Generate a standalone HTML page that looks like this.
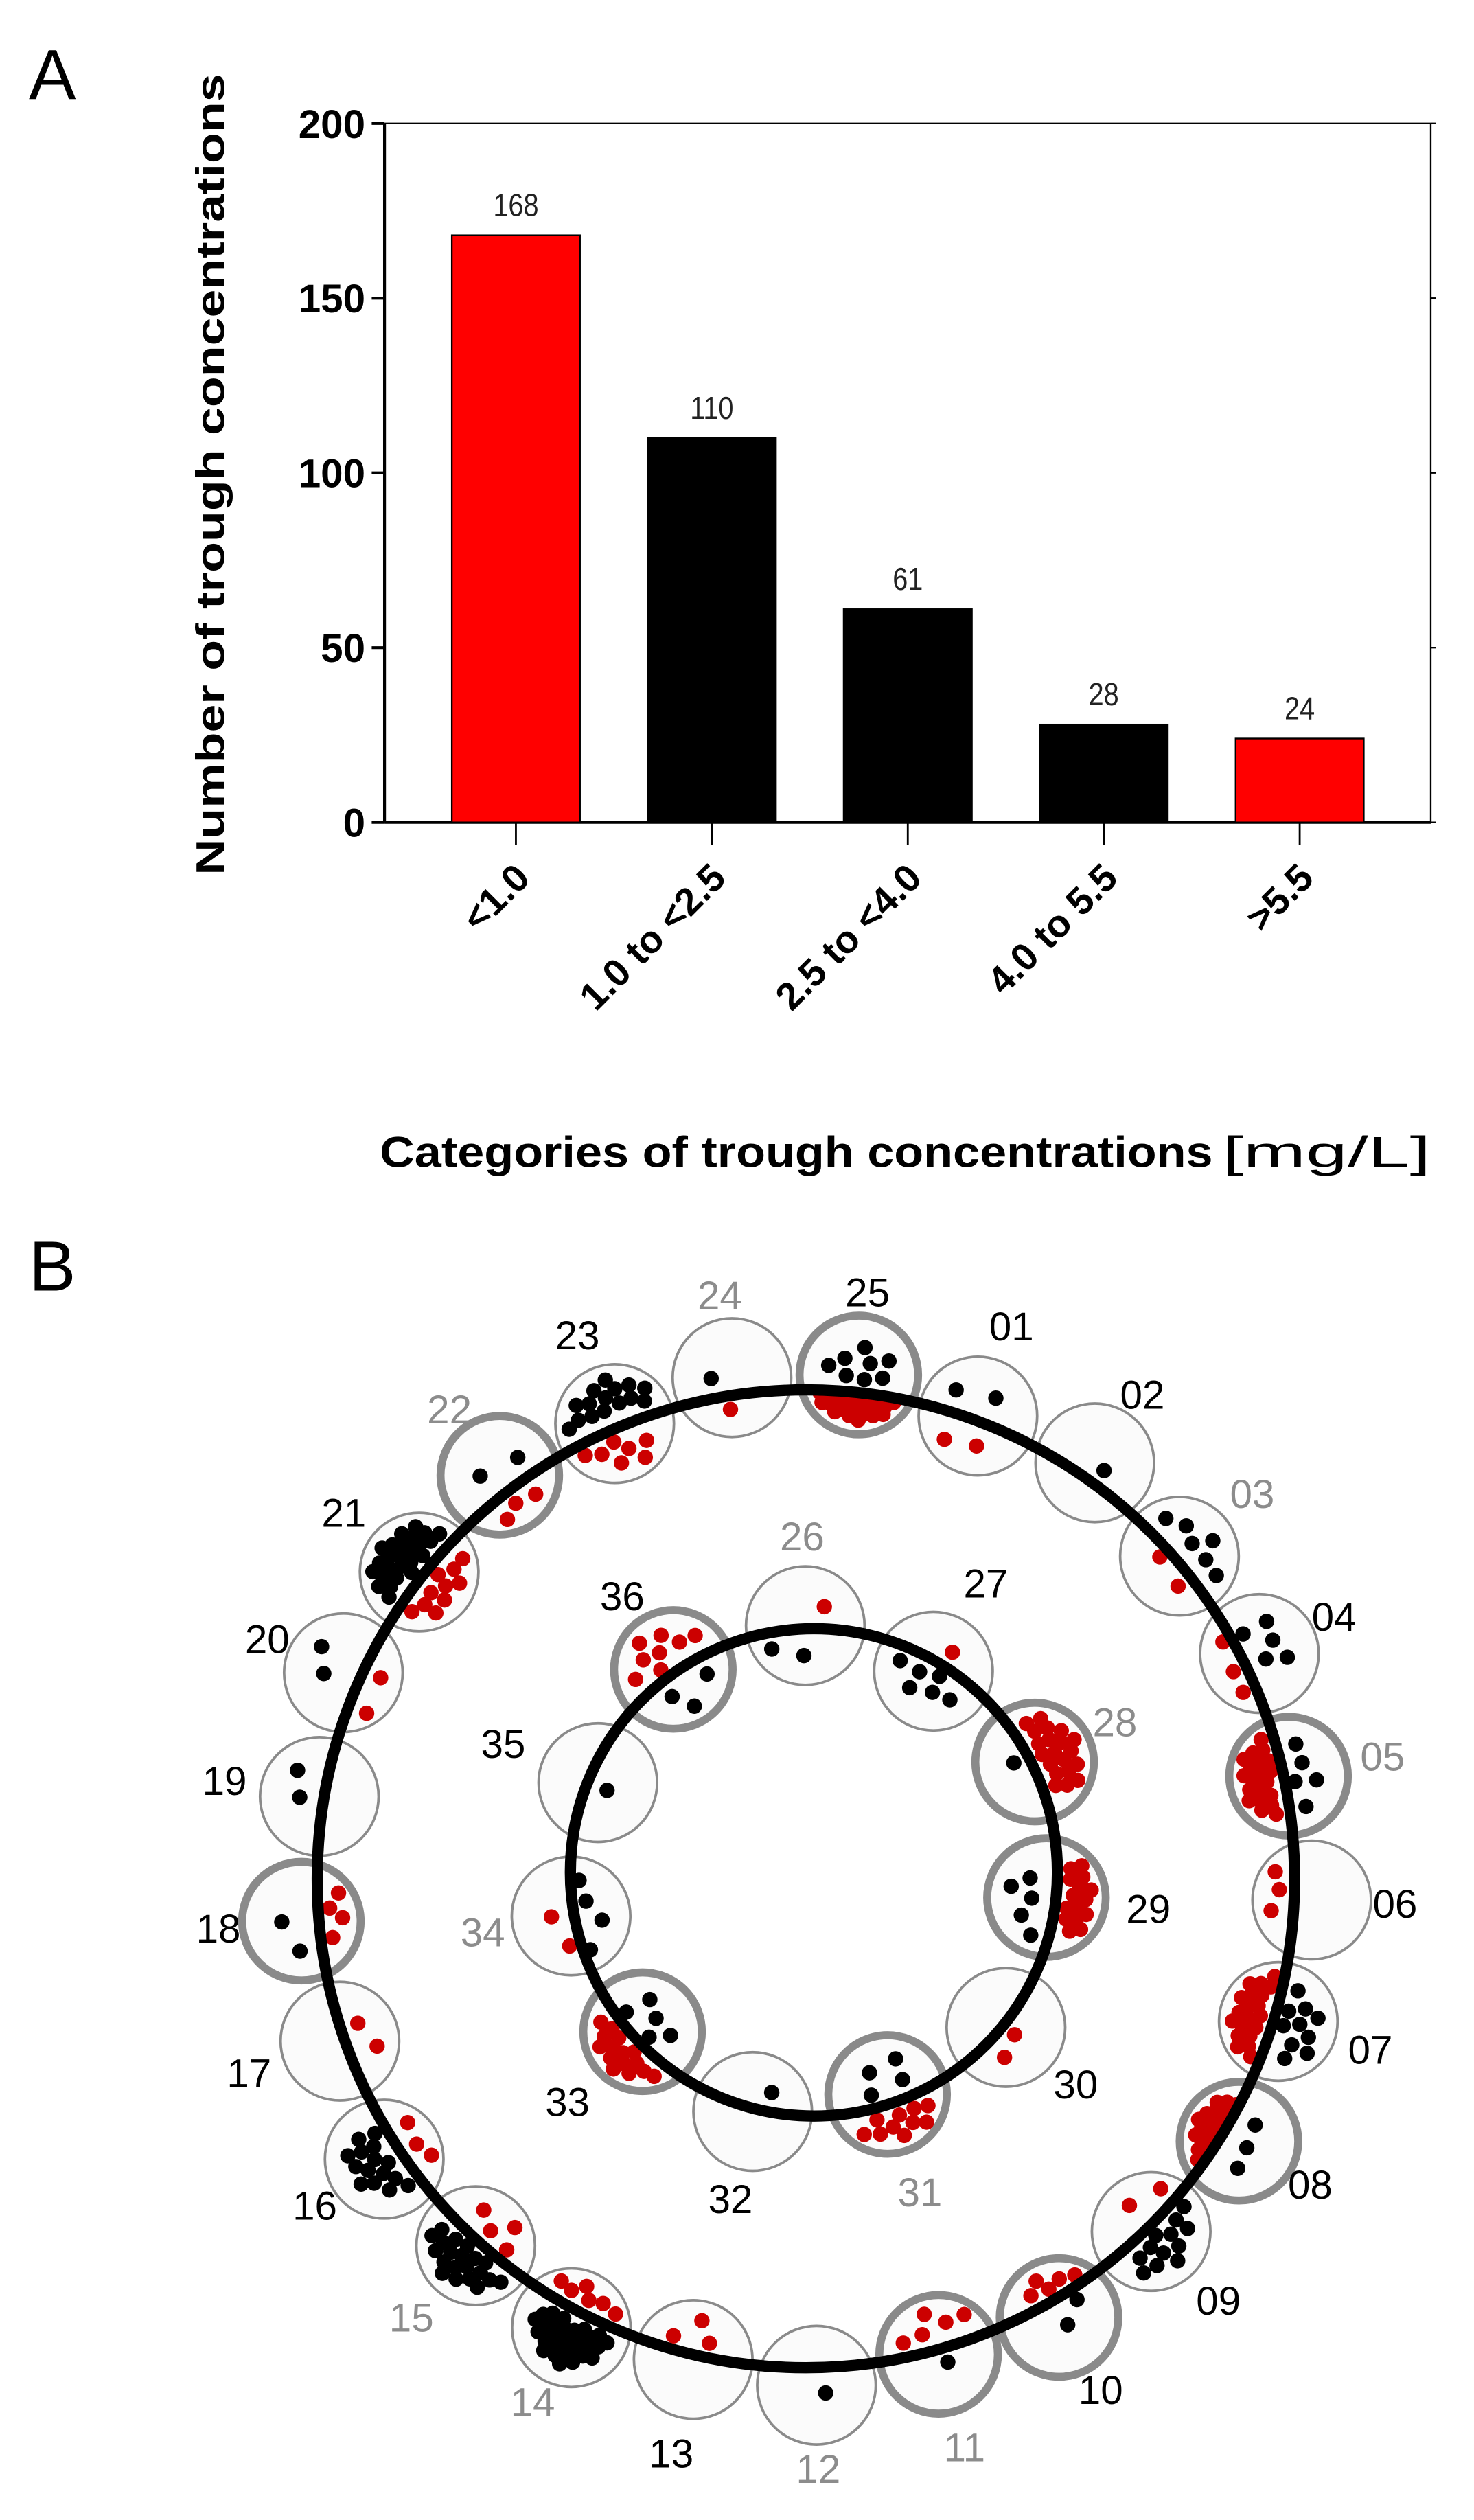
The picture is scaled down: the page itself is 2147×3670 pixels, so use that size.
<!DOCTYPE html>
<html><head><meta charset="utf-8">
<style>
html,body{margin:0;padding:0;background:#fff;}
svg{display:block;}
text{font-family:"Liberation Sans",Arial,sans-serif;}
</style></head>
<body>
<svg id="fig" width="2147" height="3670" viewBox="0 0 920 1572" preserveAspectRatio="none" xmlns="http://www.w3.org/2000/svg">
  <rect x="0" y="0" width="920" height="1572" fill="#fff"/>
  <text x="18" y="62" font-size="44">A</text>
  <g id="chartA"></g>
  <text x="18" y="805" font-size="44">B</text>
  <g id="chartB"></g>
</svg>
<script>
const categories = ["<1.0", "1.0 to <2.5", "2.5 to <4.0", "4.0 to 5.5", ">5.5"];
const counts = [168, 110, 61, 28, 24];
const barColors = ["#ff0000", "#000000", "#000000", "#000000", "#ff0000"];
const yTicks = [0, 50, 100, 150, 200];

// Panel B data
const outerIds = ["25","01","02","03","04","05","06","07","08","09","10","11","12","13","14","15","16","17","18","19","20","21","22","23","24"];
const outerRed =   [25,2,0,2,3,20,3,20,20,2,5,5,0,3,6,4,3,2,4,0,2,10,3,7,1];
const outerBlack = [8,2,1,6,5,5,0,10,3,12,2,1,1,0,30,20,15,0,2,2,2,25,2,15,1];
const outerThick = [1,0,0,0,0,1,0,0,1,0,1,1,0,0,0,0,0,0,1,0,0,0,1,0,0];
const outerGrey =  [0,0,0,1,0,1,0,0,0,0,0,1,1,0,1,1,0,0,0,0,0,0,1,0,1];
const innerIds = ["26","27","28","29","30","31","32","33","34","35","36"];
const innerRed =   [1,1,20,15,2,10,0,15,2,0,8];
const innerBlack = [2,6,1,5,0,4,1,5,4,1,3];
const innerThick = [0,0,1,1,0,1,0,1,0,0,1];
const innerGrey =  [1,0,1,0,0,1,0,0,1,0,0];

const NS = "http://www.w3.org/2000/svg";
function mk(tag, attrs, parent){const e=document.createElementNS(NS,tag);for(const k in attrs)e.setAttribute(k,attrs[k]);parent.appendChild(e);return e;}

// ---------- Chart A ----------
const A = document.getElementById('chartA');
const X0=240, X1=893, Y0=513, Y1=77, YMAX=200;
function yS(v){return Y0-(v/YMAX)*(Y0-Y1);}
function xS(i){return 322+122.3*i;}
const BW=80;
let e;
e=mk('line',{x1:X0,y1:Y1,x2:X0,y2:Y0,stroke:'#000','stroke-width':1.8},A);


e=mk('line',{x1:X0,y1:Y0,x2:X1,y2:Y0,stroke:'#000','stroke-width':1.8},A);


e=mk('line',{x1:X0,y1:Y1,x2:X1,y2:Y1,stroke:'#000','stroke-width':1},A);


e=mk('line',{x1:X1,y1:Y1,x2:X1,y2:Y0,stroke:'#000','stroke-width':1},A);


yTicks.forEach(t=>{
  const y=yS(t);
  mk('line',{x1:X0-8,y1:y,x2:X0,y2:y,stroke:'#000','stroke-width':1.8},A);
  mk('line',{x1:X1,y1:y,x2:X1+3,y2:y,stroke:'#000','stroke-width':1},A);
  const tx=mk('text',{x:X0-12,y:y+9,'font-size':25,'font-weight':'bold','text-anchor':'end'},A);
  tx.textContent=t;
  
  
});
counts.forEach((v,i)=>{
  const cx=xS(i);
  const r=mk('rect',{x:cx-BW/2,y:yS(v),width:BW,height:Y0-yS(v),fill:barColors[i],stroke:'#000','stroke-width':1},A);
  
  
  const t=mk('text',{x:cx,y:yS(v)-12,'font-size':20,'text-anchor':'middle',fill:'#222',transform:`translate(${cx} 0) scale(0.85 1) translate(${-cx} 0)`},A);
  t.textContent=v;
  
  
  mk('line',{x1:cx,y1:Y0,x2:cx,y2:Y0+14,stroke:'#000','stroke-width':1.2},A);
  const lx=cx+10, ly=Y0+36;
  const c=mk('text',{x:lx,y:ly,'font-size':24,'font-weight':'bold','text-anchor':'end',transform:`rotate(-45 ${lx} ${ly})`},A);
  c.textContent=categories[i];
  
  
});
e=mk('text',{x:0,y:0,'font-size':25,'font-weight':'bold','text-anchor':'middle',transform:'translate(140 296) rotate(-90)',textLength:500,lengthAdjust:'spacingAndGlyphs'},A);
e.textContent='Number of trough concentrations';


e=mk('text',{x:237,y:728,'font-size':27,'font-weight':'bold',textLength:520,lengthAdjust:'spacingAndGlyphs'},A);
e.textContent='Categories of trough concentrations';


e=mk('text',{x:763,y:728,'font-size':27,textLength:130,lengthAdjust:'spacingAndGlyphs'},A);
e.textContent='[mg/L]';



// ---------- Chart B ----------
const B = document.getElementById('chartB');
function sunflower(n){const pts=[];const ga=Math.PI*(3-Math.sqrt(5));for(let i=0;i<n;i++){const r=Math.sqrt((i+0.5)/n);pts.push([r*Math.cos(i*ga+0.7),r*Math.sin(i*ga+0.7)]);}return pts;}
function placeDots(cx,cy,ux,uy,n,side,color,R,lineOff){
  if(n<=0)return;
  let good=[];
  let thr=6;
  let m=Math.max(Math.round(n*2.3)+4,8);
  for(let tries=0;tries<20 && good.length<n;tries++){
    const cand=sunflower(m).map(p=>[p[0]*R,p[1]*R]);
    good=cand.filter(p=>(p[0]*ux+p[1]*uy-lineOff)*side>thr);
    m+=4;
    if(tries>8) thr-=2;
  }
  if(good.length===0) good=[[ux*side*R*0.5,uy*side*R*0.5]];
  for(let i=0;i<n;i++){
    const p=good[i%good.length];
    const j=i>=good.length?2.5:0;
    const d=mk('circle',{cx:cx+p[0]+j,cy:cy+p[1]+j,r:4.8,fill:color},B);
    
    
  }
}
function ring(ids,reds,blacks,thick,grey,CX,CY,ringR,lineR,labelR,startDeg,redOutside,prefix){
  const n=ids.length;
  const step=360/n;
  ids.forEach((id,i)=>{
    const a=(startDeg+step*i)*Math.PI/180;
    const ux=Math.sin(a), uy=-Math.cos(a);
    const off=(i%2===0?4:-4);
    const cx=CX+ux*(ringR+off), cy=CY+uy*(ringR+off);
    const c=mk('circle',{cx:cx,cy:cy,r:37,fill:'#fbfbfb',stroke:'#8a8a8a','stroke-width':thick[i]?5:1.6},B);
    
    
    let lineOff=lineR-(ringR+off);
    lineOff=Math.max(-14,Math.min(14,lineOff));
    placeDots(cx,cy,ux,uy,reds[i],redOutside?1:-1,'#cc0000',30,lineOff);
    placeDots(cx,cy,ux,uy,blacks[i],redOutside?-1:1,'#000000',30,lineOff);
    const lx=CX+ux*labelR, ly=CY+uy*labelR+9;
    const t=mk('text',{x:lx,y:ly,'font-size':25,'text-anchor':'middle',fill:grey[i]?'#8c8c8c':'#000'},B);
    t.textContent=id;
    
    
  });
  const L=mk('circle',{cx:CX,cy:CY,r:lineR,fill:'none',stroke:'#000','stroke-width':7},B);
  
  
}
ring(outerIds,outerRed,outerBlack,outerThick,outerGrey,503,1172,312,305,368,6,false,'outer');
ring(innerIds,innerRed,innerBlack,innerThick,innerGrey,508,1168,150,152,210,-2,true,'inner');
</script>
</body></html>
